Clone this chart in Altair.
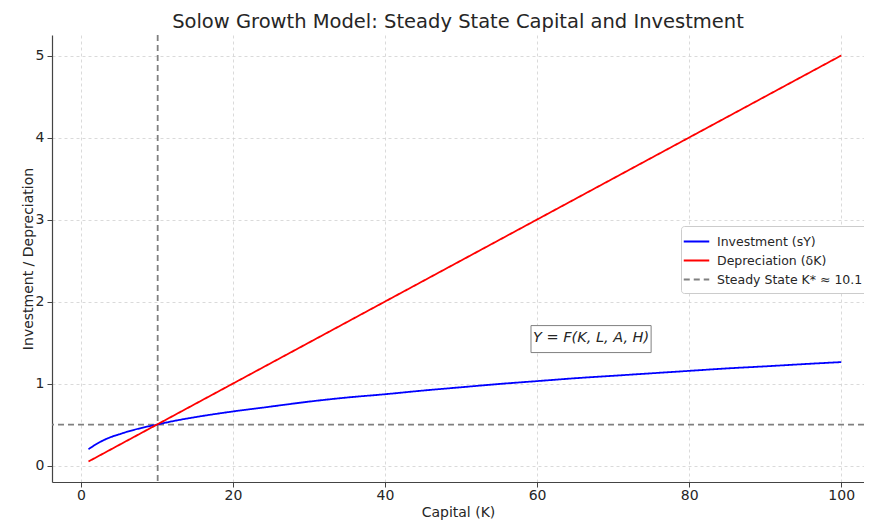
import altair as alt
import pandas as pd

# Data
capital = [1, 2, 3, 4, 5, 6, 8, 10, 12, 15, 20, 25, 30, 35, 40, 45, 50, 55, 60, 65, 70, 75, 80, 85, 90, 95, 100]
investment = [0.20, 0.26, 0.31, 0.35, 0.38, 0.41, 0.46, 0.50, 0.54, 0.59, 0.66, 0.72, 0.78, 0.83, 0.87,
              0.915, 0.955, 0.995, 1.03, 1.065, 1.095, 1.125, 1.155, 1.185, 1.21, 1.237, 1.262]
dep_capital = [1, 100]
depreciation = [0.05, 5.0]
steady_k = 10.1
steady_i = 0.5

series_names = ["Investment (sY)", "Depreciation (δK)", "Steady State K* ≈ 10.1"]
series_colors = ["#0000ff", "#ff0000", "#808080"]
series_dash = [[1, 0], [1, 0], [6, 4]]

x_domain = [-3.8, 103.0]
y_domain = [-0.2, 5.25]
x_ticks = [0, 20, 40, 60, 80, 100]
y_ticks = [0, 1, 2, 3, 4, 5]

annot_text = ["Y = F(K, L, A, H)"]
annot_x = [67.1]
annot_y = [1.55]
annot_box = {"x": 59.2, "x2": 75.0, "y": 1.378, "y2": 1.707}

rows = [{"K": k, "v": v, "series": series_names[0]} for k, v in zip(capital, investment)]
rows += [{"K": k, "v": v, "series": series_names[1]} for k, v in zip(dep_capital, depreciation)]
lines_df = pd.DataFrame(rows)

vline_df = pd.DataFrame({"K": [steady_k], "series": [series_names[2]]})
hline_df = pd.DataFrame({"v": [steady_i], "series": [series_names[2]]})
annot_df = pd.DataFrame({"K": annot_x, "v": annot_y, "t": annot_text})
box_df = pd.DataFrame([annot_box])

xscale = alt.Scale(domain=x_domain, nice=False, zero=False)
yscale = alt.Scale(domain=y_domain, nice=False, zero=False)

color = alt.Color("series:N", scale=alt.Scale(domain=series_names, range=series_colors),
                  legend=alt.Legend(title=None, orient="none", legendX=629, legendY=191,
                                    symbolType="M-1.7,0H1.7", symbolSize=225, symbolStrokeWidth=2,
                                    labelFontSize=12.5, labelFont="DejaVu Sans", labelColor="#262626",
                                    fillColor="white", strokeColor="#cccccc", padding=7,
                                    cornerRadius=3, rowPadding=4, labelLimit=300, labelOffset=12,
                                    offset=0))
dash = alt.StrokeDash("series:N", scale=alt.Scale(domain=series_names, range=series_dash),
                      legend=None)

xaxis = alt.Axis(values=x_ticks, title="Capital (K)", format="d")
yaxis = alt.Axis(values=y_ticks, title="Investment / Depreciation", format="d")

lines = alt.Chart(lines_df).mark_line(strokeWidth=1.8, clip=True, interpolate="monotone").encode(
    x=alt.X("K:Q", scale=xscale, axis=xaxis),
    y=alt.Y("v:Q", scale=yscale, axis=yaxis),
    color=color,
    strokeDash=dash,
)

vline = alt.Chart(vline_df).mark_rule(strokeWidth=1.8).encode(
    x=alt.X("K:Q", scale=xscale),
    color=color,
    strokeDash=dash,
)
hline = alt.Chart(hline_df).mark_rule(strokeWidth=1.8).encode(
    y=alt.Y("v:Q", scale=yscale),
    color=color,
    strokeDash=dash,
)

box = alt.Chart(box_df).mark_rect(fill="white", stroke="#808080", strokeWidth=1).encode(
    x=alt.X("x:Q", scale=xscale), x2="x2:Q",
    y=alt.Y("y:Q", scale=yscale), y2="y2:Q",
)
text = alt.Chart(annot_df).mark_text(fontSize=14.5, fontStyle="italic", font="DejaVu Sans",
                                     color="#262626").encode(
    x=alt.X("K:Q", scale=xscale),
    y=alt.Y("v:Q", scale=yscale),
    text="t:N",
)

chart = alt.layer(hline, vline, lines, box, text).properties(
    width=812, height=447,
    title=alt.Title("Solow Growth Model: Steady State Capital and Investment",
                    fontSize=19.5, font="DejaVu Sans", fontWeight="normal", color="#262626",
                    anchor="middle", offset=2),
    autosize=alt.AutoSizeParams(type="none"),
    padding={"left": 44, "top": 27, "right": 0, "bottom": 40},
).configure_view(stroke=None).configure_axis(
    grid=True, gridColor="#d0d0d0", gridDash=[3, 3], gridWidth=0.8,
    domainColor="#444444", domainWidth=1.2, tickColor="#444444", tickSize=5,
    labelFont="DejaVu Sans", labelFontSize=14, labelColor="#262626",
    titleFont="DejaVu Sans", titleFontSize=14, titleColor="#262626", titleFontWeight="normal",
).configure_axisY(titlePadding=0, labelPadding=3).configure_axisX(titlePadding=3, labelPadding=1)

chart.save("out.html", embed_options={"renderer": "svg", "actions": False})
